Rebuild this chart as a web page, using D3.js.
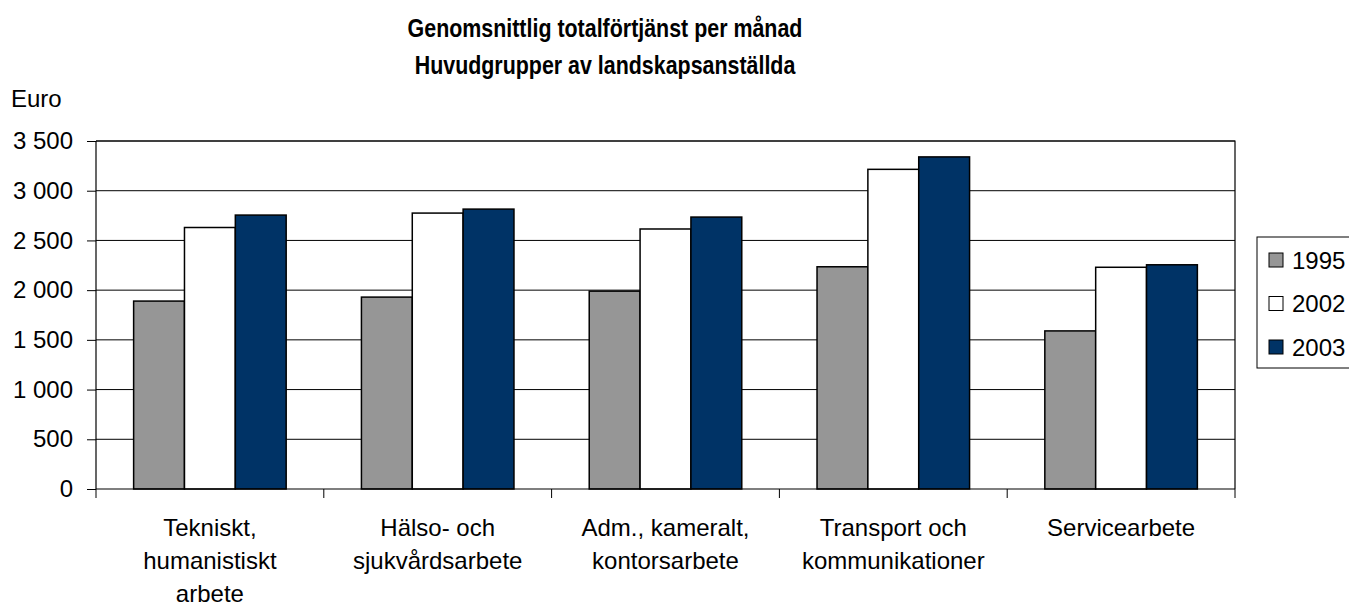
<!DOCTYPE html>
<html>
<head>
<meta charset="utf-8">
<script src="https://cdn.jsdelivr.net/npm/d3@7"></script>
<style>
	body { margin: 0; background: #fff; }
	svg text { font-family: "Liberation Sans", Arial, sans-serif; fill: #000; }
</style>
</head>
<body>
<svg id="chart" width="1349" height="602"></svg>
<script>
const categories = [
	["Tekniskt,", "humanistiskt", "arbete"],
	["Hälso- och", "sjukvårdsarbete"],
	["Adm., kameralt,", "kontorsarbete"],
	["Transport och", "kommunikationer"],
	["Servicearbete"],
];
const years = ["1995", "2002", "2003"];
const values1995 = [1890, 1930, 1990, 2235, 1590];
const values2002 = [2630, 2775, 2615, 3215, 2230];
const values2003 = [2755, 2815, 2735, 3340, 2255];
const yTicks = [0, 500, 1000, 1500, 2000, 2500, 3000, 3500];
const colors = ["#969696", "#ffffff", "#003366"];

const svg = d3.select("#chart");
const margin = { top: 141, left: 96, right: 114, bottom: 113 };
const width = 1349 - margin.left - margin.right;
const height = 602 - margin.top - margin.bottom;

const series = [values1995, values2002, values2003];
const catIdx = d3.range(categories.length);

const x = d3.scaleBand().domain(catIdx).range([0, width]).paddingInner(0).paddingOuter(0);
const x1 = d3.scaleBand().domain(d3.range(years.length)).range([0, x.bandwidth()]).paddingInner(0).paddingOuter(0.74);
const y = d3.scaleLinear().domain([0, 3500]).range([height, 0]);

// number format with space as thousands separator
const fmt = (d) => d3.format(",")(d).replace(/,/g, " ");

const g = svg.append("g").attr("transform", `translate(${margin.left},${margin.top})`);

// Title (narrow bold look of the original)
const title = svg.append("g")
	.attr("transform", "translate(605,0) scale(0.84,1)")
	.append("text")
	.attr("text-anchor", "middle")
	.style("font-size", "25.5px")
	.style("font-weight", "bold");
title.append("tspan").attr("x", 0).attr("y", 37).text("Genomsnittlig totalförtjänst per månad");
title.append("tspan").attr("x", 0).attr("y", 74).text("Huvudgrupper av landskapsanställda");

svg.append("text")
	.attr("x", 11)
	.attr("y", 107)
	.style("font-size", "24px")
	.text("Euro");

// Gridlines
g.append("g")
	.selectAll("line")
	.data(yTicks.filter((d) => d > 0))
	.join("line")
	.attr("x1", 0)
	.attr("x2", width)
	.attr("y1", (d) => y(d))
	.attr("y2", (d) => y(d))
	.attr("stroke", "#000")
	.attr("stroke-width", 1);

// Plot frame (top, right)
g.append("path")
	.attr("d", `M0,0H${width}V${height}`)
	.attr("fill", "none")
	.attr("stroke", "#000")
	.attr("stroke-width", 1.2);

// Bars
g.append("g")
	.selectAll("g")
	.data(series)
	.join("g")
	.attr("fill", (d, i) => colors[i])
	.selectAll("rect")
	.data((d, i) => d.map((v, c) => ({ v, c, s: i })))
	.join("rect")
	.attr("x", (d) => x(d.c) + x1(d.s))
	.attr("y", (d) => y(d.v))
	.attr("width", x1.bandwidth())
	.attr("height", (d) => height - y(d.v))
	.attr("stroke", "#000")
	.attr("stroke-width", 1.5);

// Y axis
const yAxis = g.append("g")
	.call(d3.axisLeft(y).tickValues(yTicks).tickSize(9).tickPadding(14).tickFormat(fmt));
yAxis.select(".domain").attr("stroke", "#000").attr("stroke-width", 1.2).attr("d", `M0,0V${height}`);
yAxis.selectAll("text").style("font-size", "24px").attr("fill", "#000");

// X axis
const xAxis = g.append("g").attr("transform", `translate(0,${height})`);
xAxis.append("line")
	.attr("x1", 0).attr("x2", width)
	.attr("stroke", "#000").attr("stroke-width", 1.2);
xAxis.selectAll(".tick")
	.data(d3.range(categories.length + 1))
	.join("line")
	.attr("class", "tick")
	.attr("x1", (d) => (d < categories.length ? x(d) : width))
	.attr("x2", (d) => (d < categories.length ? x(d) : width))
	.attr("y1", 0)
	.attr("y2", 9)
	.attr("stroke", "#000");
xAxis.selectAll(".label")
	.data(categories)
	.join("text")
	.attr("class", "label")
	.attr("text-anchor", "middle")
	.style("font-size", "24px")
	.each(function (d, i) {
		const t = d3.select(this);
		d.forEach((line, k) => {
			t.append("tspan")
				.attr("x", x(i) + x.bandwidth() / 2)
				.attr("y", 47 + k * 33)
				.text(line);
		});
	});

// Legend
const legend = svg.append("g").attr("transform", "translate(1257,237)");
legend.append("rect")
	.attr("width", 100)
	.attr("height", 131)
	.attr("fill", "#fff")
	.attr("stroke", "#000")
	.attr("stroke-width", 1);
const item = legend.selectAll(".item")
	.data(years)
	.join("g")
	.attr("class", "item")
	.attr("transform", (d, i) => `translate(12,${23 + i * 43.5})`);
item.append("rect")
	.attr("x", 0)
	.attr("y", -7)
	.attr("width", 14)
	.attr("height", 14)
	.attr("fill", (d, i) => colors[i])
	.attr("stroke", "#000")
	.attr("stroke-width", 1);
item.append("text")
	.attr("x", 23)
	.attr("y", 8.5)
	.style("font-size", "24px")
	.text((d) => d);
</script>
</body>
</html>
